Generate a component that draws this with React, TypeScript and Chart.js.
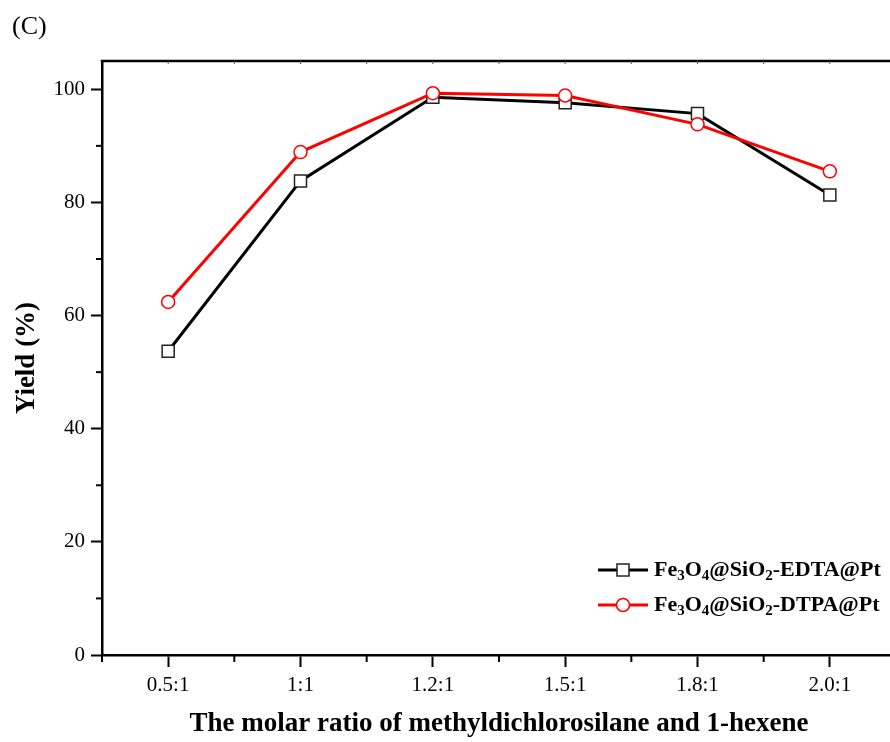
import React, { useEffect, useRef } from 'react';
import { Chart, registerables } from 'chart.js';

Chart.register(...registerables);

const categories = ['0.5:1', '1:1', '1.2:1', '1.5:1', '1.8:1', '2.0:1'];
const edtaYield = [53.7, 83.8, 98.6, 97.6, 95.7, 81.3];
const dtpaYield = [62.4, 88.9, 99.3, 98.9, 93.8, 85.5];
const yMajorStep = 20;
const yMinorTicks = [10, 30, 50, 70, 90];
const seriesNames = ['Fe3O4@SiO2-EDTA@Pt', 'Fe3O4@SiO2-DTPA@Pt'];
const panelLabel = '(C)';
const xTitle = 'The molar ratio of methyldichlorosilane and 1-hexene';
const yTitle = 'Yield (%)';

const SERIF = "'Liberation Serif', 'Times New Roman', serif";

function drawChemText(ctx: CanvasRenderingContext2D, text: string, x: number, y: number, size: number) {
  // digits directly after a letter are subscripts
  const parts: { t: string; sub: boolean }[] = [];
  let i = 0;
  while (i < text.length) {
    const ch = text[i];
    const prev = i > 0 ? text[i - 1] : '';
    const isSub = /[0-9]/.test(ch) && /[A-Za-z]/.test(prev);
    if (isSub) {
      let j = i;
      while (j < text.length && /[0-9]/.test(text[j])) j++;
      parts.push({ t: text.slice(i, j), sub: true });
      i = j;
    } else {
      let j = i;
      while (j < text.length && !(/[0-9]/.test(text[j]) && /[A-Za-z]/.test(text[j - 1] || ''))) j++;
      parts.push({ t: text.slice(i, j), sub: false });
      i = j;
    }
  }
  let cx = x;
  ctx.textBaseline = 'middle';
  ctx.textAlign = 'left';
  for (const p of parts) {
    if (p.sub) {
      ctx.font = `bold ${Math.round(size * 0.68)}px ${SERIF}`;
      ctx.fillText(p.t, cx, y + size * 0.3);
    } else {
      ctx.font = `bold ${size}px ${SERIF}`;
      ctx.fillText(p.t, cx, y);
    }
    cx += ctx.measureText(p.t).width;
  }
}

const framePlugin = {
  id: 'frame',
  afterDraw(chart: any) {
    const { ctx, chartArea: a, scales } = chart;
    const xs = scales.x;
    const ys = scales.y;
    ctx.save();
    ctx.strokeStyle = '#000';
    ctx.lineCap = 'butt';
    // top and right borders
    ctx.lineWidth = 2.5;
    ctx.beginPath();
    ctx.moveTo(a.left - 1.25, a.top);
    ctx.lineTo(a.right, a.top);
    ctx.lineTo(a.right, a.bottom);
    ctx.stroke();

    const half = (xs.getPixelForValue(1) - xs.getPixelForValue(0)) / 2;
    // x minor ticks (between categories)
    ctx.lineWidth = 2;
    for (let i = 0; i <= categories.length; i++) {
      const px = xs.getPixelForValue(i) - half;
      ctx.beginPath();
      ctx.moveTo(px, a.bottom);
      ctx.lineTo(px, a.bottom + 7);
      ctx.stroke();
    }
    // y minor ticks
    for (const v of yMinorTicks) {
      const py = ys.getPixelForValue(v);
      ctx.beginPath();
      ctx.moveTo(a.left - 6, py);
      ctx.lineTo(a.left, py);
      ctx.stroke();
    }
    // small inward ticks on top border
    ctx.lineWidth = 1;
    ctx.strokeStyle = '#555';
    for (let i = 0; i < categories.length; i++) {
      for (const px of [xs.getPixelForValue(i), xs.getPixelForValue(i) + half]) {
        ctx.beginPath();
        ctx.moveTo(px, a.top);
        ctx.lineTo(px, a.top + 3);
        ctx.stroke();
      }
    }

    // panel label
    ctx.fillStyle = '#000';
    ctx.font = `26px ${SERIF}`;
    ctx.textAlign = 'left';
    ctx.textBaseline = 'alphabetic';
    ctx.fillText(panelLabel, 12, 34);

    // legend
    const rows = [570, 605];
    const ds = chart.data.datasets;
    const order = [0, 1];
    order.forEach((di, r) => {
      const d = ds[di];
      const yy = rows[r];
      ctx.strokeStyle = d.borderColor;
      ctx.lineWidth = 3;
      ctx.beginPath();
      ctx.moveTo(598, yy);
      ctx.lineTo(648, yy);
      ctx.stroke();
      ctx.fillStyle = '#fff';
      ctx.strokeStyle = d.pointBorderColor;
      ctx.lineWidth = 1.5;
      if (d.pointStyle === 'rect') {
        ctx.fillRect(617, yy - 6, 12, 12);
        ctx.strokeRect(617, yy - 6, 12, 12);
      } else {
        ctx.beginPath();
        ctx.arc(623, yy, 6.5, 0, Math.PI * 2);
        ctx.fill();
        ctx.stroke();
      }
      ctx.fillStyle = '#000';
      drawChemText(ctx, seriesNames[di], 654, yy, 22);
    });
    ctx.restore();
  },
};

export default function App() {
  const ref = useRef<HTMLCanvasElement | null>(null);

  useEffect(() => {
    if (!ref.current) return;
    const chart = new Chart(ref.current, {
      type: 'line',
      data: {
        labels: categories,
        datasets: [
          {
            label: seriesNames[0],
            data: edtaYield,
            borderColor: '#000000',
            borderWidth: 3,
            pointStyle: 'rect',
            pointRadius: 8.5,
            pointHoverRadius: 8.5,
            pointBackgroundColor: '#ffffff',
            pointBorderColor: '#222222',
            pointBorderWidth: 1.5,
            tension: 0,
            order: 1,
          },
          {
            label: seriesNames[1],
            data: dtpaYield,
            borderColor: '#ff0000',
            borderWidth: 3,
            pointStyle: 'circle',
            pointRadius: 6.5,
            pointHoverRadius: 6.5,
            pointBackgroundColor: '#ffffff',
            pointBorderColor: '#ff0000',
            pointBorderWidth: 1.5,
            tension: 0,
            order: 0,
          },
        ],
      },
      options: {
        animation: false,
        responsive: false,
        devicePixelRatio: 1,
        layout: { padding: { left: 0, top: 61, right: 14, bottom: 0 } },
        plugins: {
          legend: { display: false },
          tooltip: { enabled: false },
          title: { display: false },
        },
        scales: {
          x: {
            type: 'category',
            offset: true,
            grid: {
              display: true,
              drawOnChartArea: false,
              drawTicks: true,
              tickLength: 12,
              tickWidth: 2,
              tickColor: '#000',
              offset: false,
            },
            border: { display: true, color: '#000', width: 2.5 },
            ticks: {
              color: '#000',
              font: { family: SERIF, size: 21 },
              padding: 6,
              maxRotation: 0,
              autoSkip: false,
            },
            title: {
              display: true,
              text: xTitle,
              color: '#000',
              font: { family: SERIF, size: 27, weight: 'bold' },
              padding: { top: 0, bottom: 2 },
            },
            afterFit: (s: any) => {
              s.height = 87;
            },
          },
          y: {
            type: 'linear',
            min: 0,
            max: 105,
            grid: {
              display: true,
              drawOnChartArea: false,
              drawTicks: true,
              tickLength: 11,
              tickWidth: 2,
              tickColor: '#000',
            },
            border: { display: true, color: '#000', width: 2.5 },
            ticks: {
              stepSize: yMajorStep,
              includeBounds: false,
              color: '#000',
              font: { family: SERIF, size: 21 },
              padding: 6,
            },
            title: {
              display: true,
              text: yTitle,
              color: '#000',
              font: { family: SERIF, size: 27, weight: 'bold' },
              padding: { top: 11, bottom: 0 },
            },
            afterFit: (s: any) => {
              s.width = 102;
            },
          },
        },
      },
      plugins: [framePlugin],
    });
    return () => chart.destroy();
  }, []);

  return (
    <div
      style={{
        position: 'absolute',
        left: 0,
        top: 0,
        width: 890,
        height: 742,
        overflow: 'hidden',
        background: '#fff',
      }}
    >
      <canvas ref={ref} width={910} height={742} style={{ display: 'block', width: 910, height: 742 }} />
    </div>
  );
}
